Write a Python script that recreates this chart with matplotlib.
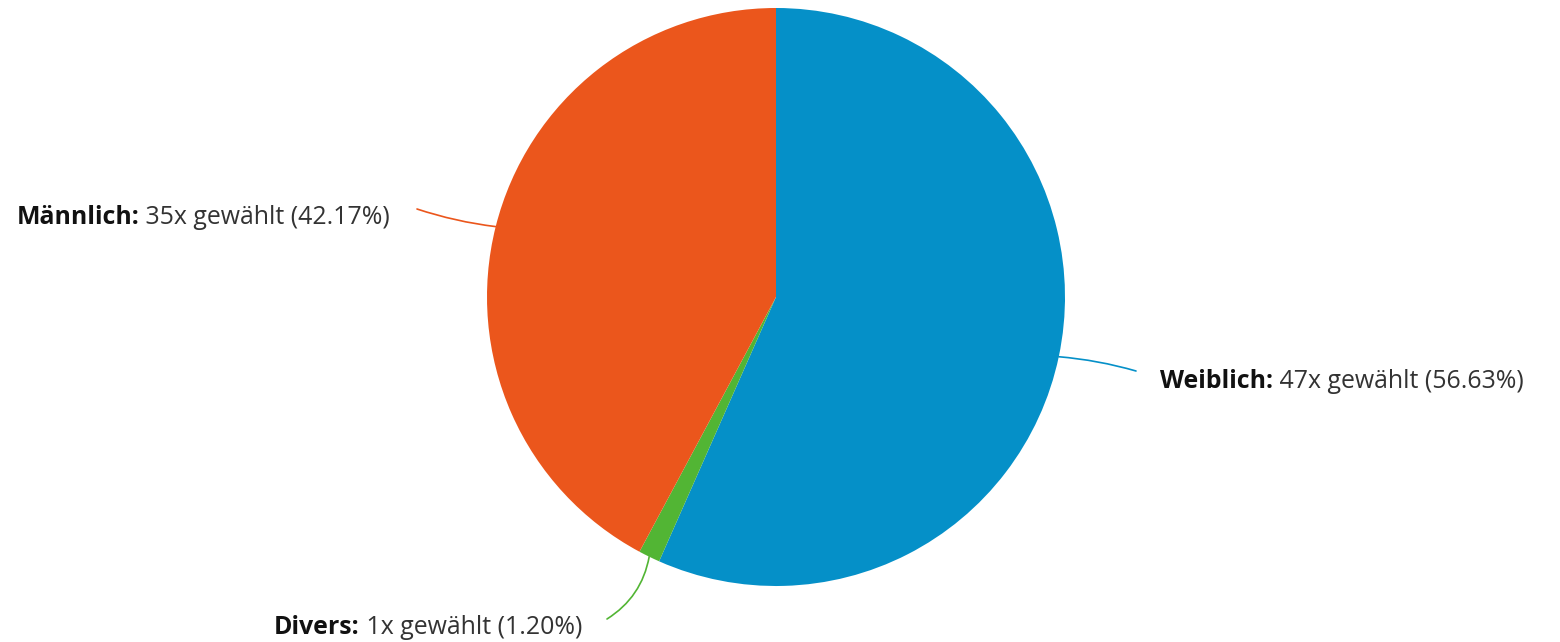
import numpy as np
from matplotlib import pyplot as plt

plt.rcParams['font.family'] = ['Open Sans', 'DejaVu Sans']

# Daten
kategorien = ['Weiblich', 'Divers', 'Männlich']
anzahl = [47, 1, 35]
farben = ['#0590c8', '#52b534', '#eb561c']

W, H = 1560, 642
fig = plt.figure(figsize=(W / 100, H / 100), dpi=100)
ax = fig.add_axes([0, 0, 1, 1])

cx, cy, r = 776, H - 297, 289
wedges, _ = ax.pie(anzahl, colors=farben, startangle=90, counterclock=False,
                   center=(cx, cy), radius=r, frame=True,
                   wedgeprops=dict(linewidth=0))
ax.set_xlim(0, W)
ax.set_ylim(0, H)
ax.axis('off')

gesamt = sum(anzahl)
# Label-Endpunkte (Pixel, y von oben), Ausrichtung, Kruemmung
ziel = {'Weiblich': (1136, 371, 'left', 0.05),
        'Divers': (607, 619, 'right', 0.22),
        'Männlich': (417, 209, 'right', 0.05)}
# Textmitte (Pixel, y von oben)
text_pos = {'Weiblich': (1160, 381), 'Divers': (582, 627), 'Männlich': (390, 217)}

fig.canvas.draw()
renderer = fig.canvas.get_renderer()
fs = 17.9

for w, name, n, col in zip(wedges, kategorien, anzahl, farben):
    mitte = np.deg2rad((w.theta1 + w.theta2) / 2)
    px = cx + r * np.cos(mitte)
    py = cy + r * np.sin(mitte)
    tx, ty, ha, rad = ziel[name]
    ax.annotate('', xy=(px, py), xytext=(tx, H - ty),
                arrowprops=dict(arrowstyle='-', color=col, lw=1.2,
                                connectionstyle='arc3,rad=%s' % rad,
                                shrinkA=0, shrinkB=0))
    rest = ' %dx gewählt (%.2f%%)' % (n, n / gesamt * 100)
    fett = name + ':'
    lx, ly = text_pos[name]
    ly = H - ly
    if ha == 'left':
        t1 = ax.text(lx, ly, fett, fontsize=fs, fontweight='bold',
                     color='#111111', ha='left', va='center')
        bb = t1.get_window_extent(renderer)
        ax.text(bb.x1, ly, rest, fontsize=fs, color='#333333',
                ha='left', va='center')
    else:
        t2 = ax.text(lx, ly, rest, fontsize=fs, color='#333333',
                     ha='right', va='center')
        bb = t2.get_window_extent(renderer)
        ax.text(bb.x0, ly, fett, fontsize=fs, fontweight='bold',
                color='#111111', ha='right', va='center')

fig.savefig('out.png', dpi=100, facecolor='white')
